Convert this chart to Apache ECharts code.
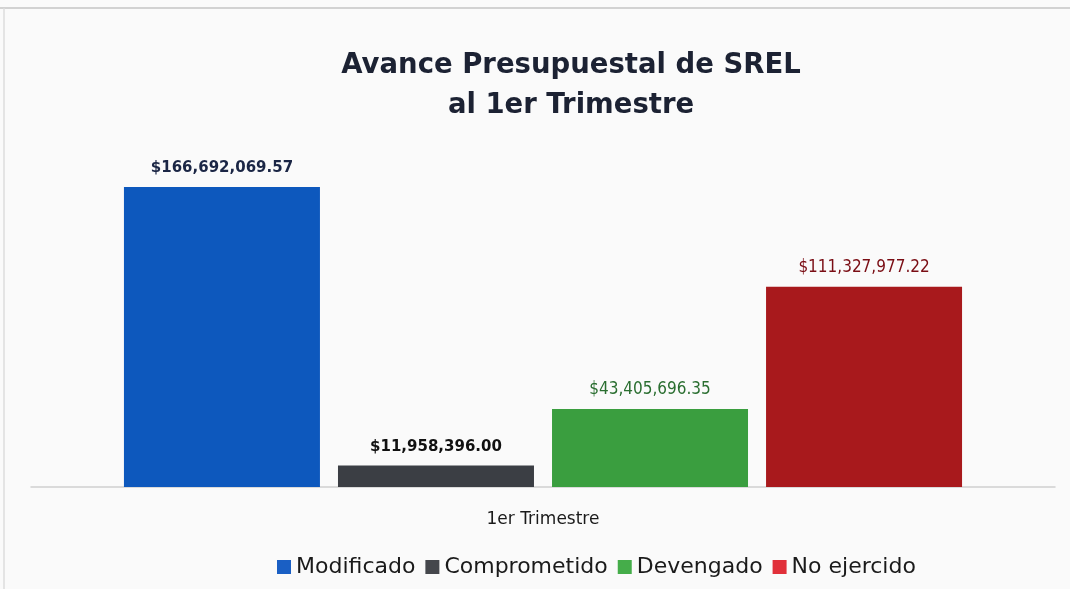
<!DOCTYPE html>
<html>
<head>
<meta charset="utf-8">
<script src="https://cdn.jsdelivr.net/npm/echarts@6/dist/echarts.min.js"></script>
<style>
	html, body { margin: 0; padding: 0; background: #fafafa; }
	#chart { width: 1070px; height: 589px; }
</style>
</head>
<body>
<div id="chart"></div>
<script>
// categorias y valores
var categories = ["1er Trimestre"];
var seriesNames = ["Modificado", "Comprometido", "Devengado", "No ejercido"];
var modificado = [166692069.57];
var comprometido = [11958396.00];
var devengado = [43405696.35];
var noEjercido = [111327977.22];

var barColors = ["#0d58bd", "#3b3e44", "#3a9e3f", "#a8191c"];
var legendColors = ["#1a5fc4", "#45474c", "#45ad4a", "#e1303a"];
var labelColors = ["#1b2645", "#111111", "#2a6e30", "#7a0d14"];

function money(v){
	var parts = v.toFixed(2).split(".");
	parts[0] = parts[0].replace(/\B(?=(\d{3})+(?!\d))/g, ",");
	return "$" + parts[0] + "." + parts[1];
}

var values = [modificado, comprometido, devengado, noEjercido];
var series = [];
for(var i = 0; i < seriesNames.length; ++i){
	series.push({
		name : seriesNames[i],
		type : "bar",
		data : values[i],
		barWidth : 196,
		barGap : "9.2%",
		itemStyle : { color : barColors[i] },
		label : {
			show : true,
			position : "top",
			distance : 11,
			formatter : function(p){ return money(p.value); },
			color : labelColors[i],
			fontFamily : i >= 2 ? "Liberation Sans Narrow, DejaVu Sans Condensed, sans-serif" : "DejaVu Sans, sans-serif",
			fontWeight : i >= 2 ? "normal" : "bold",
			fontSize : i >= 2 ? 17 : 15,
			letterSpacing : i >= 2 ? -0.5 : 0
		}
	});
}

var legendData = [];
for(var j = 0; j < seriesNames.length; ++j){
	legendData.push({ name : seriesNames[j], itemStyle : { color : legendColors[j] } });
}

var chart = echarts.init(document.getElementById("chart"));
chart.setOption({
	backgroundColor : "#fafafa",
	animation : false,
	title : {
		text : "Avance Presupuestal de SREL\nal 1er Trimestre",
		left : 566,
		textAlign : "center",
		top : 41,
		textStyle : {
			fontFamily : "DejaVu Sans, sans-serif",
			fontWeight : "bold",
			fontSize : 27.5,
			lineHeight : 40,
			color : "#1c2233"
		}
	},
	legend : {
		data : legendData,
		bottom : 6,
		left : 272,
		itemWidth : 14,
		itemHeight : 14,
		itemGap : 10,
		icon : "rect",
		textStyle : {
			fontFamily : "DejaVu Sans, sans-serif",
			fontSize : 22,
			color : "#1a1a1a"
		}
	},
	grid : {
		left : 31,
		right : 15,
		top : 187,
		height : 300,
		containLabel : false
	},
	xAxis : {
		type : "category",
		data : categories,
		axisLine : { lineStyle : { color : "#cfcfcf", width : 1.5 } },
		axisTick : { show : false },
		axisLabel : {
			margin : 24,
			fontFamily : "DejaVu Sans, sans-serif",
			fontSize : 17,
			color : "#1a1a1a"
		}
	},
	yAxis : {
		type : "value",
		min : 0,
		max : "dataMax",
		show : false,
		splitLine : { show : false }
	},
	graphic : [
		{ type : "line", shape : { x1 : 0, y1 : 8, x2 : 1070, y2 : 8 }, style : { stroke : "#c4c4c4", lineWidth : 1.5 } },
		{ type : "line", shape : { x1 : 4, y1 : 8, x2 : 4, y2 : 589 }, style : { stroke : "#dcdcdc", lineWidth : 1.5 } }
	],
	series : series
});
</script>
</body>
</html>
